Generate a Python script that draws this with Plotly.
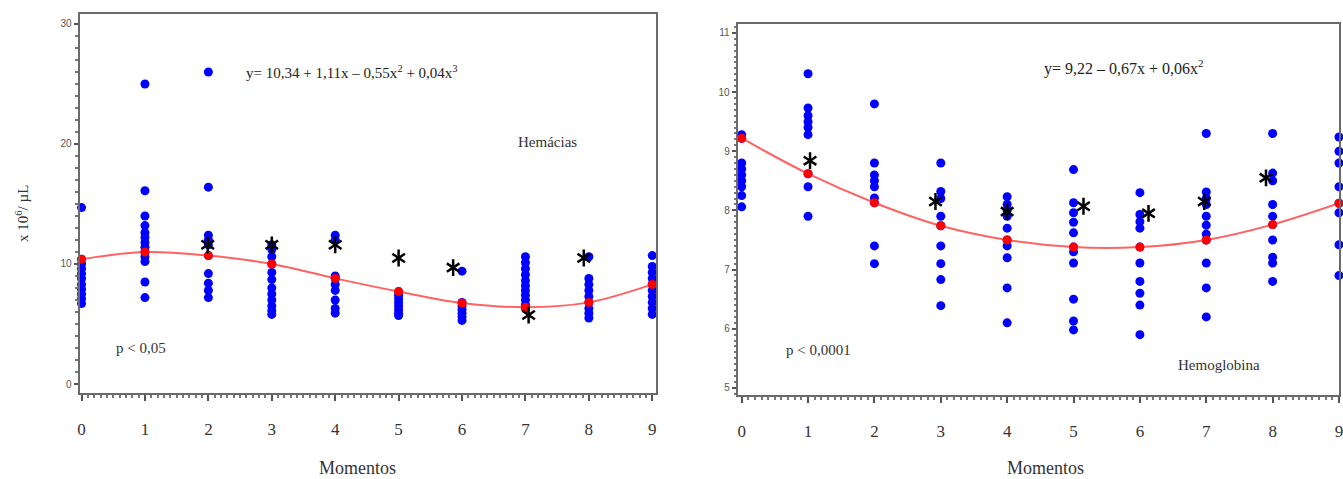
import plotly.graph_objects as go

W, H = 1343, 479

# ---------------- data ----------------
moments = [0, 1, 2, 3, 4, 5, 6, 7, 8, 9]
tick_labels = ["0", "1", "2", "3", "4", "5", "6", "7", "8", "9"]

# Hemácias (x 10^6/µL) individual values per moment
hem_m0 = [14.7, 10.4, 10.0, 9.6, 9.2, 8.8, 8.3, 7.9, 7.5, 7.1, 6.7]
hem_m1 = [25.0, 16.1, 14.0, 13.2, 12.6, 12.2, 11.8, 11.4, 11.0, 10.6, 10.2, 8.5, 7.2]
hem_m2 = [26.0, 16.4, 12.4, 12.0, 11.6, 10.7, 9.2, 8.4, 7.8, 7.2]
hem_m3 = [11.6, 11.2, 10.6, 10.0, 9.3, 8.7, 8.0, 7.5, 7.0, 6.5, 6.1, 5.8]
hem_m4 = [12.4, 12.0, 9.0, 8.8, 8.3, 7.8, 7.0, 6.3, 5.9]
hem_m5 = [7.7, 7.4, 7.1, 6.8, 6.5, 6.2, 5.9, 5.7]
hem_m6 = [9.4, 6.8, 6.5, 6.2, 5.9, 5.6, 5.3]
hem_m7 = [10.6, 10.1, 9.6, 9.1, 8.6, 8.2, 7.8, 7.4, 7.0, 6.6, 6.3]
hem_m8 = [10.6, 8.8, 8.3, 7.8, 7.3, 6.8, 6.3, 5.9, 5.5]
hem_m9 = [10.7, 9.8, 9.3, 8.8, 8.3, 7.8, 7.3, 6.8, 6.3, 5.8]
hem_means = [10.4, 11.0, 10.7, 10.0, 8.8, 7.7, 6.75, 6.4, 6.8, 8.3]
hem_star_x = [1.99, 3.0, 4.0, 5.0, 5.86, 7.05, 7.92]
hem_star_y = [11.6, 11.6, 11.6, 10.5, 9.7, 5.75, 10.5]

# Hemoglobina individual values per moment
hb_m0 = [9.28, 9.22, 8.8, 8.7, 8.6, 8.5, 8.4, 8.25, 8.06]
hb_m1 = [10.31, 9.73, 9.6, 9.5, 9.4, 9.28, 8.62, 8.4, 7.9]
hb_m2 = [9.8, 8.8, 8.6, 8.5, 8.4, 8.21, 8.13, 7.4, 7.1]
hb_m3 = [8.8, 8.32, 8.2, 7.9, 7.74, 7.4, 7.1, 6.83, 6.39]
hb_m4 = [8.23, 8.1, 8.0, 7.9, 7.7, 7.5, 7.4, 7.2, 6.69, 6.1]
hb_m5 = [8.69, 8.13, 7.96, 7.8, 7.62, 7.38, 7.3, 7.11, 6.5, 6.13, 5.98]
hb_m6 = [8.3, 7.93, 7.81, 7.7, 7.38, 7.11, 6.8, 6.6, 6.4, 5.9]
hb_m7 = [9.3, 8.31, 8.2, 8.1, 7.9, 7.75, 7.6, 7.5, 7.11, 6.69, 6.2]
hb_m8 = [9.3, 8.63, 8.5, 8.1, 7.9, 7.76, 7.5, 7.21, 7.11, 6.8]
hb_m9 = [9.24, 9.0, 8.8, 8.4, 8.12, 7.96, 7.42, 6.9]
hb_means = [9.22, 8.62, 8.13, 7.74, 7.5, 7.38, 7.38, 7.5, 7.76, 8.12]
hb_star_x = [1.03, 2.92, 4.0, 5.15, 6.13, 6.97, 7.9]
hb_star_y = [8.84, 8.15, 7.98, 8.07, 7.95, 8.15, 8.55]

hem_groups = [hem_m0, hem_m1, hem_m2, hem_m3, hem_m4, hem_m5, hem_m6, hem_m7, hem_m8, hem_m9]
hb_groups = [hb_m0, hb_m1, hb_m2, hb_m3, hb_m4, hb_m5, hb_m6, hb_m7, hb_m8, hb_m9]

# ---------------- helpers ----------------
def px(x):
    return x / W

def py(y):
    return 1 - y / H

def flatten(groups):
    xs, ys = [], []
    for m, g in zip(moments, groups):
        for v in g:
            xs.append(m)
            ys.append(v)
    return xs, ys

SERIF = "Liberation Serif"
BLUE = "#0000FF"
RED = "#FF0000"

fig = go.Figure()

for groups, means, sx, sy, xa, ya in [
    (hem_groups, hem_means, hem_star_x, hem_star_y, "x", "y"),
    (hb_groups, hb_means, hb_star_x, hb_star_y, "x2", "y2"),
]:
    bx, by = flatten(groups)
    fig.add_trace(go.Scatter(x=bx, y=by, mode="markers", xaxis=xa, yaxis=ya,
                             marker=dict(color=BLUE, size=9), cliponaxis=False,
                             showlegend=False, hoverinfo="skip"))
    fig.add_trace(go.Scatter(x=moments, y=means, mode="lines", xaxis=xa, yaxis=ya,
                             line=dict(color="rgba(255,70,70,0.85)", width=2, shape="spline"),
                             cliponaxis=False, showlegend=False, hoverinfo="skip"))
    fig.add_trace(go.Scatter(x=moments, y=means, mode="markers", xaxis=xa, yaxis=ya,
                             marker=dict(color=RED, size=9), cliponaxis=False,
                             showlegend=False, hoverinfo="skip"))
    for sym in ["y-up-open", "y-down-open"]:
        fig.add_trace(go.Scatter(x=sx, y=sy, mode="markers", xaxis=xa, yaxis=ya,
                                 marker=dict(symbol=sym, size=10.5, color="black",
                                             line=dict(color="black", width=2.5)),
                                 cliponaxis=False, showlegend=False, hoverinfo="skip"))

axis_common = dict(showline=True, linecolor="#6a6a6a", linewidth=2, mirror=True,
                   showgrid=False, zeroline=False, ticks="outside", tickcolor="#555")

fig.update_layout(
    width=W, height=H,
    margin=dict(l=0, r=0, t=0, b=0),
    paper_bgcolor="white", plot_bgcolor="white",
    xaxis=dict(domain=[px(78), px(657)], range=[-0.03, 9.06], anchor="y",
               tickmode="array", tickvals=moments, ticktext=tick_labels,
               ticklen=6, tickwidth=1.5, ticklabelstandoff=14,
               tickfont=dict(family=SERIF, size=17, color="#333"),
               minor=dict(dtick=0.1, ticklen=3, tickcolor="#777", ticks="outside"),
               **axis_common),
    yaxis=dict(domain=[py(393), py(14)], range=[-0.75, 30.83], anchor="x",
               tickvals=[0, 10, 20, 30], ticklen=4, tickwidth=1.5,
               tickfont=dict(family="Liberation Sans", size=10, color="#555"),
               minor=dict(dtick=1, ticklen=3, tickcolor="#777", ticks="outside"),
               **axis_common),
    xaxis2=dict(domain=[px(739), 1.0], range=[-0.06, 9.0], anchor="y2",
                tickmode="array", tickvals=moments, ticktext=tick_labels,
                ticklen=6, tickwidth=1.5, ticklabelstandoff=14,
                ticklabeloverflow="allow",
                tickfont=dict(family=SERIF, size=17, color="#333"),
                minor=dict(dtick=0.1, ticklen=3, tickcolor="#777", ticks="outside"),
                **axis_common),
    yaxis2=dict(domain=[py(395), py(24)], range=[4.88, 11.15], anchor="x2",
                tickvals=[5, 6, 7, 8, 9, 10, 11], ticklen=4, tickwidth=1.5,
                tickfont=dict(family="Liberation Sans", size=10, color="#555"),
                minor=dict(dtick=0.1, ticklen=2, tickcolor="#777", ticks="outside"),
                **axis_common),
)

def note(text, x, y, size=15, angle=0, color="#333"):
    fig.add_annotation(text=text, x=px(x), y=py(y), xref="paper", yref="paper",
                       showarrow=False, textangle=angle, xanchor="center", yanchor="middle",
                       font=dict(family=SERIF, size=size, color=color))

note("y= 10,34 + 1,11x – 0,55x<sup>2</sup> + 0,04x<sup>3</sup>", 352, 72, 15, color="#222")
note("Hemácias", 548, 142, 15)
note("p < 0,05", 140, 348, 15)
note("x 10<sup>6</sup>/ µL", 20, 213, 15, -90)
note("Momentos", 357, 468, 18)

note("y= 9,22 – 0,67x + 0,06x<sup>2</sup>", 1127, 68, 16, color="#222")
note("p < 0,0001", 820, 350, 15)
note("Hemoglobina", 1222, 365, 15)
note("Momentos", 1048, 468, 18)

fig.write_html("out.html")
